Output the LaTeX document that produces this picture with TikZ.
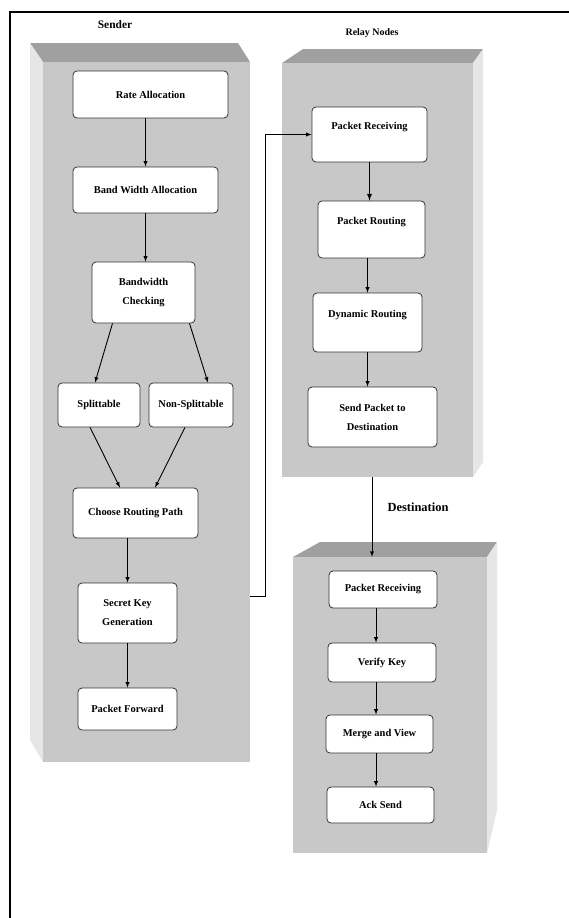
\documentclass[tikz,border=0pt]{standalone}
\usepackage{fontspec}
\setmainfont{Liberation Serif}
\usepackage{xcolor}
\usetikzlibrary{shapes,arrows}

\definecolor{frontgray}{RGB}{200,200,200}
\definecolor{topgray}{RGB}{160,160,160}
\definecolor{sidegray}{RGB}{230,230,230}

\begin{document}
\begin{tikzpicture}[x=1bp,y=-1bp]
\tikzstyle{every node}=[font=\fontsize{10.5}{13}\selectfont\bfseries]
\tikzstyle{block}=[fill=frontgray, inner sep=0pt]
\tikzstyle{proc}=[draw=black!80, fill=white, rounded corners=4bp, align=center, inner sep=1bp, line width=0.8bp]
\tikzstyle{upper}=[text depth=18bp]
\tikzstyle{twoline}=[font=\fontsize{10.5}{19}\selectfont\bfseries]
\tikzstyle{flow}=[-latex, line width=0.9bp]
\useasboundingbox (0,0) rectangle (569,918);
\fill[white] (0,0) rectangle (569,918);
% frame
\draw[line width=2bp] (10,918) -- (10,12) -- (569,12);

% sender block
\fill[topgray] (30,43) -- (238,43) -- (250,62) -- (43,62) -- cycle;
\fill[sidegray] (30,43) -- (43,62) -- (43,762) -- (30,740) -- cycle;
\node[block, minimum width=207bp, minimum height=700bp] (senderblk) at (146.5,412) {};
\node [font=\fontsize{11.5}{14}\selectfont\bfseries] (sendlbl) at (115,25) {Sender};

% relay block
\fill[topgray] (282,63) -- (303,49) -- (483,49) -- (473,63) -- cycle;
\fill[sidegray] (473,63) -- (483,49) -- (483,462) -- (473,477) -- cycle;
\node[block, minimum width=191bp, minimum height=414bp] (relayblk) at (377.5,270) {};
\node [font=\fontsize{10}{12}\selectfont\bfseries] (relaylbl) at (372,33) {Relay Nodes};

% destination block
\fill[topgray] (293,557) -- (320,542) -- (497,542) -- (487,557) -- cycle;
\fill[sidegray] (487,557) -- (497,542) -- (497,810) -- (487,853) -- cycle;
\node[block, minimum width=194bp, minimum height=296bp] (destblk) at (390,705) {};
\node [font=\fontsize{12.5}{15}\selectfont\bfseries] (destlbl) at (418,507) {Destination};

% sender steps
\node[proc, minimum width=155bp, minimum height=47bp] (rate) at (150.5,94.5) {Rate Allocation};
\node[proc, minimum width=145bp, minimum height=46bp] (band) at (145.5,190) {Band Width Allocation};
\node[proc, twoline, minimum width=103bp, minimum height=61bp] (check) at (143.5,292.5) {Bandwidth\\Checking};
\node[proc, minimum width=82bp, minimum height=44bp] (split) at (99,405) {Splittable};
\node[proc, minimum width=84bp, minimum height=44bp] (nonsplit) at (191,405) {Non-Splittable};
\node[proc, minimum width=125bp, minimum height=50bp] (choose) at (135.5,513) {Choose Routing Path};
\node[proc, twoline, minimum width=99bp, minimum height=60bp] (secret) at (127.5,613) {Secret Key\\Generation};
\node[proc, minimum width=99bp, minimum height=42bp] (forward) at (127.5,709) {Packet Forward};

% relay steps
\node[proc, upper, minimum width=115bp, minimum height=55bp] (precv) at (369.5,134.5) {Packet Receiving};
\node[proc, upper, minimum width=107bp, minimum height=57bp] (prout) at (371.5,229.5) {Packet Routing};
\node[proc, upper, minimum width=109bp, minimum height=59bp] (dynroute) at (367.5,322.5) {Dynamic Routing};
\node[proc, twoline, minimum width=129bp, minimum height=60bp] (sendpkt) at (372.5,417) {Send Packet to\\Destination};

% destination steps
\node[proc, minimum width=108bp, minimum height=37bp] (drecv) at (383,589.5) {Packet Receiving};
\node[proc, minimum width=108bp, minimum height=39bp] (verify) at (382,662.5) {Verify Key};
\node[proc, minimum width=107bp, minimum height=38bp] (merge) at (379.5,734) {Merge and View};
\node[proc, minimum width=107bp, minimum height=36bp] (ack) at (380.5,805) {Ack Send};

% sender arrows
\draw[flow] (band.north |- rate.south) -- (band.north);
\draw[flow] (band.south) -- (band.south |- check.north);
\draw[flow] ([xshift=-31bp]check.south) -- ([xshift=-4bp]split.north);
\draw[flow] ([xshift=46bp]check.south) -- ([xshift=17bp]nonsplit.north);
\draw[flow] ([xshift=-9bp]split.south) -- ([xshift=-15.5bp]choose.north);
\draw[flow] ([xshift=-6bp]nonsplit.south) -- ([xshift=19.5bp]choose.north);
\draw[flow] (secret.north |- choose.south) -- (secret.north);
\draw[flow] (secret.south) -- (forward.north);

% sender to relay
\coordinate (sendout) at (senderblk.east |- 0,596);
\draw[flow] (sendout) -- ++(15,0) |- (precv.west);

% relay arrows
\draw[flow, line width=1.3bp] (precv.south) -- (precv.south |- prout.north);
\draw[flow] (dynroute.north |- prout.south) -- (dynroute.north);
\draw[flow] (dynroute.south) -- (dynroute.south |- sendpkt.north);

% relay to destination
\draw[flow] ([xshift=-5.5bp]relayblk.south) -- ([xshift=-5.5bp]relayblk.south |- destblk.north);

% destination arrows
\draw[flow] ([xshift=-7bp]drecv.south) -- ([xshift=-7bp]drecv.south |- verify.north);
\draw[flow] ([xshift=-7bp]drecv.south |- verify.south) -- ([xshift=-7bp]drecv.south |- merge.north);
\draw[flow] ([xshift=-7bp]drecv.south |- merge.south) -- ([xshift=-7bp]drecv.south |- ack.north);
\end{tikzpicture}
\end{document}
